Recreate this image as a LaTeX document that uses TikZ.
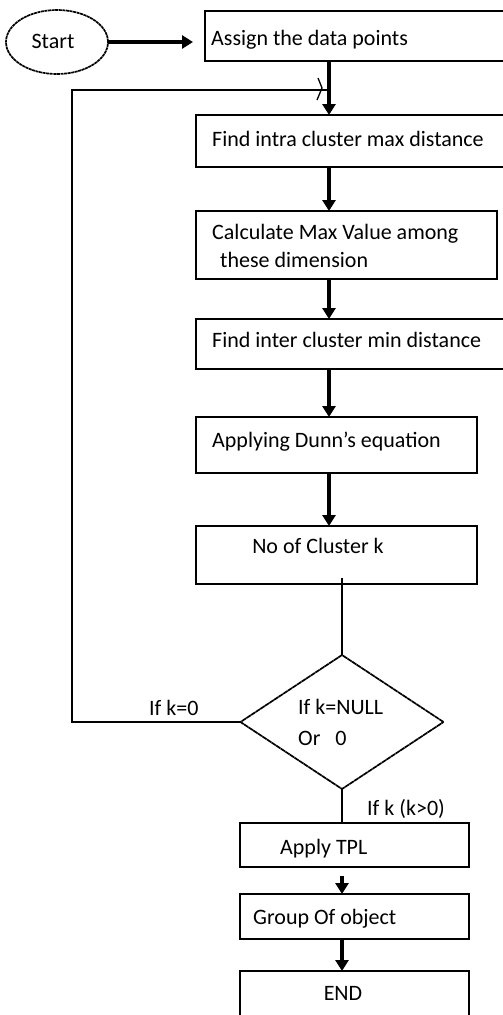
\documentclass[tikz,border=0pt]{standalone}
\usepackage{fontspec}
\setmainfont{Carlito}
\usetikzlibrary{shapes.geometric,arrows.meta}
\begin{document}
\begin{tikzpicture}[x=1pt,y=-1pt,
  box/.style={draw, line width=2pt, inner sep=0pt, outer sep=0pt},
  txt/.style={anchor=base west, inner sep=0pt, font=\fontsize{22}{26}\selectfont},
  ctxt/.style={anchor=base, inner sep=0pt, font=\fontsize{22}{26}\selectfont},
  arr/.style={line width=3.6pt, -{Triangle[length=11pt,width=13pt]}},
  thin/.style={line width=1.9pt},
  decision/.style={draw, shape=diamond, line width=1.7pt, dash pattern=on 5pt off 0.5pt, inner sep=0pt, outer sep=0pt, minimum width=203pt, minimum height=134pt},
  terminal/.style={draw, ellipse, line width=1.7pt, dash pattern=on 3pt off 0.6pt, inner sep=0pt, outer sep=0pt, minimum width=102pt, minimum height=64pt}]
\useasboundingbox (0,0) rectangle (503,1015);
\clip (0,0) rectangle (503,1015);
\fill[white] (0,0) rectangle (503,1015);

% shapes
\node[terminal] (start) at (57,42) {};
\node[box, minimum width=310pt, minimum height=50pt] (b1) at (360,36) {};
\node[box, minimum width=319pt, minimum height=52pt] (b2) at (355.5,141) {};
\node[box, minimum width=301pt, minimum height=68pt] (b3) at (346.5,245) {};
\node[box, minimum width=319pt, minimum height=50pt] (b4) at (355.5,344) {};
\node[box, minimum width=281pt, minimum height=56pt] (b5) at (336.5,445) {};
\node[box, minimum width=281pt, minimum height=58pt] (b6) at (336.5,555) {};
\node[decision] (dia) at (342,722) {};
\node[box, minimum width=229pt, minimum height=44pt] (b7) at (354.5,845) {};
\node[box, minimum width=229pt, minimum height=45pt] (b8) at (354.5,916.5) {};
\node[box, minimum width=229pt, minimum height=64pt] (b9) at (354.5,1003) {};

\coordinate (spine) at (329,0);
\coordinate (lx) at (72,90);
\coordinate (lm) at (329,90);

% texts
\node[ctxt] (tstart) at (53,48) {Start};
\node[txt] (t1) at (211,45) {Assign the data points};
\node[txt] (t2) at (212,146) {Find intra cluster max distance};
\node[txt] (t3a) at (212,239) {Calculate Max Value among};
\node[txt] (t3b) at (220,267) {these dimension};
\node[txt] (t4) at (212,347) {Find inter cluster min distance};
\node[txt] (t5) at (212,447) {Applying Dunn’s equation};
\node[ctxt] (t6) at (318,553) {No of Cluster k};
\node[txt] (d1) at (298,714) {If k=NULL};
\node[txt] (d2) at (298,745) {Or\hspace{15pt}0};
\node[txt] (l1) at (149,715) {If k=0};
\node[txt] (l2) at (367,815) {If k (k>0)};
\node[txt] (t7) at (280,854) {Apply TPL};
\node[txt] (t8) at (253,924) {Group Of object};
\node[ctxt] (t9) at (343,1000) {END};

% connectors
\draw[arr, shorten >=12pt] (start.east) -- (b1.west |- start.east);
\draw[arr] (b1.south -| spine) -- (b2.north -| spine);
\draw[arr] (b2.south -| spine) -- (b3.north -| spine);
\draw[arr] (b3.south -| spine) -- (b4.north -| spine);
\draw[arr] (b4.south -| spine) -- (b5.north -| spine);
\draw[arr] (b5.south -| spine) -- (b6.north -| spine);
\draw[line width=2.4pt] (dia.west) -| (lx) -- (lm);
\draw[line width=1.3pt] (318,78) -- (322,88) -- (317,100);
\draw[thin] ([yshift=6pt]b6.south -| dia.north) -- (dia.north);
\draw[thin] (dia.south) -- (b7.north -| dia.south);
\draw[arr] ([yshift=-9pt]b7.south -| dia.south) -- (b8.north -| dia.south);
\draw[arr] (b8.south -| dia.south) -- (b9.north -| dia.south);
\end{tikzpicture}
\end{document}
